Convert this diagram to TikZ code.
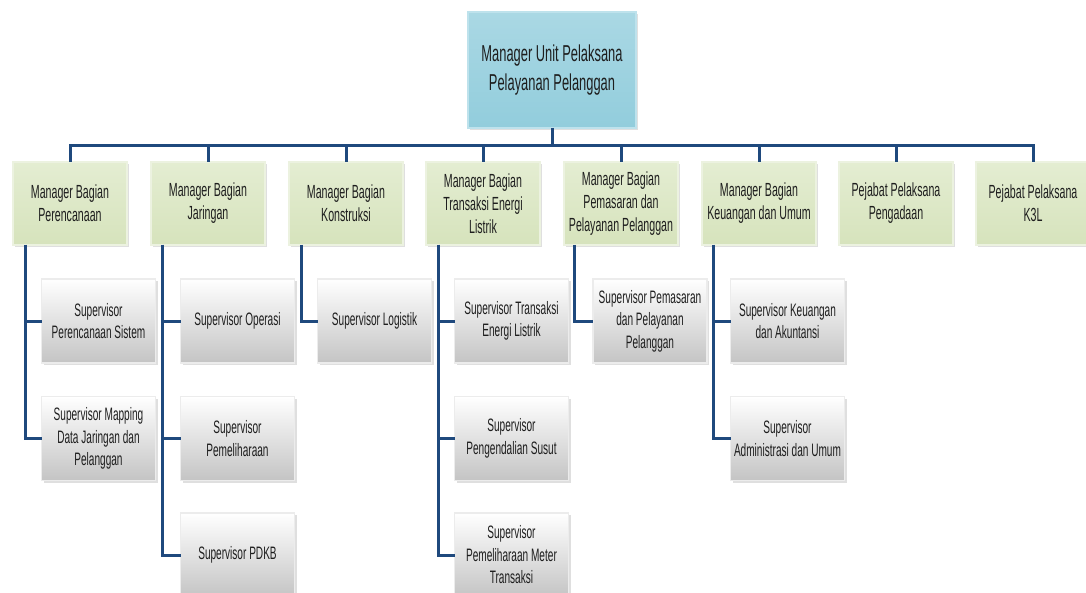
\documentclass[tikz,border=0pt]{standalone}
\usepackage{fontspec}
\setmainfont{Liberation Sans}[FakeStretch=0.56]
\usetikzlibrary{shadows,positioning}
\usepackage{xcolor}
\definecolor{linkblue}{RGB}{31,73,125}
\definecolor{textgrey}{RGB}{30,30,30}
\definecolor{blueface}{RGB}{146,205,220}
\definecolor{bluetop}{RGB}{170,216,228}
\definecolor{blueedge}{RGB}{190,226,236}
\definecolor{greenface}{RGB}{214,227,188}
\definecolor{greentop}{RGB}{228,237,210}
\definecolor{greenedge}{RGB}{236,242,224}
\definecolor{supbottom}{RGB}{196,196,196}
\definecolor{supedge}{RGB}{236,236,236}

\tikzset{
  orgbox/.style={align=center, outer sep=0pt, inner sep=1pt, text=textgrey,
    drop shadow={shadow xshift=1.2pt, shadow yshift=-1.2pt, opacity=0.25}},
  headbox/.style={orgbox, minimum width=84pt, minimum height=58pt,
    top color=bluetop, bottom color=blueface, draw=blueedge, line width=1pt,
    font=\fontsize{11.5}{14.2}\selectfont},
  mgrbox/.style={orgbox, minimum width=57pt, minimum height=41.5pt,
    top color=greentop, bottom color=greenface, draw=greenedge, line width=0.8pt,
    font=\fontsize{9.5}{11.5}\selectfont},
  supbox/.style={orgbox, minimum width=57pt, minimum height=42pt,
    top color=white, bottom color=supbottom, draw=supedge, line width=0.6pt,
    font=\fontsize{9}{11.25}\selectfont},
  conn/.style={draw=linkblue, line width=1.5pt},
}

\begin{document}
\begin{tikzpicture}[x=0.5pt, y=-0.5pt]
    \useasboundingbox (0,0) rectangle (1086,593);
    \fill[white] (0,0) rectangle (1086,593);

    % top of the chart
    \node[headbox] (manager) at (552,70) {Manager Unit Pelaksana\\Pelayanan Pelanggan};
    \coordinate (bus) at (552,146);

    % managers
    \node[mgrbox] (perencanaan) at (70,203.5) {Manager Bagian\\Perencanaan};
    \node[mgrbox] (jaringan) at (208,203.5) {Manager Bagian\\Jaringan};
    \node[mgrbox] (konstruksi) at (346,203.5) {Manager Bagian\\Konstruksi};
    \node[mgrbox] (transaksi) at (483,203.5) {Manager Bagian\\Transaksi Energi\\Listrik};
    \node[mgrbox] (pemasaran) at (621,203.5) {Manager Bagian\\Pemasaran dan\\Pelayanan Pelanggan};
    \node[mgrbox] (keuangan) at (759,203.5) {Manager Bagian\\Keuangan dan Umum};
    \node[mgrbox] (pengadaan) at (896,203.5) {Pejabat Pelaksana\\Pengadaan};
    \node[mgrbox] (kthreel) at (1033,203.5) {Pejabat Pelaksana\\K3L};

    % supervisors
    \node[supbox] (sperencanaan) at (98.5,321) {Supervisor\\Perencanaan Sistem};
    \node[supbox] (smapping) at (98.5,438.5) {Supervisor Mapping\\Data Jaringan dan\\Pelanggan};
    \node[supbox] (soperasi) at (237.5,321) {Supervisor Operasi};
    \node[supbox] (spemeliharaan) at (237.5,438.5) {Supervisor\\Pemeliharaan};
    \node[supbox] (spdkb) at (237.5,555) {Supervisor PDKB};
    \node[supbox] (slogistik) at (374.5,321) {Supervisor Logistik};
    \node[supbox] (stel) at (511.5,321) {Supervisor Transaksi\\Energi Listrik};
    \node[supbox] (ssusut) at (511.5,438.5) {Supervisor\\Pengendalian Susut};
    \node[supbox] (smeter) at (511.5,555) {Supervisor\\Pemeliharaan Meter\\Transaksi};
    \node[supbox] (spemasaran) at (650,321) {Supervisor Pemasaran\\dan Pelayanan\\Pelanggan};
    \node[supbox] (sakuntansi) at (787.5,321) {Supervisor Keuangan\\dan Akuntansi};
    \node[supbox] (sadmin) at (787.5,438.5) {Supervisor\\Administrasi dan Umum};

    % bus to the managers
    \draw[conn] (manager.south) -- (bus);
    \draw[conn] (bus) -| (perencanaan.north);
    \draw[conn] (bus) -| (jaringan.north);
    \draw[conn] (bus) -| (konstruksi.north);
    \draw[conn] (bus) -| (transaksi.north);
    \draw[conn] (bus) -| (pemasaran.north);
    \draw[conn] (bus) -| (keuangan.north);
    \draw[conn] (bus) -| (pengadaan.north);
    \draw[conn] (bus) -| (kthreel.north);

    % managers to supervisors
    \draw[conn] ([xshift=6pt]perencanaan.south west) |- (sperencanaan.west);
    \draw[conn] ([xshift=6pt]perencanaan.south west) |- (smapping.west);
    \draw[conn] ([xshift=5.5pt]jaringan.south west) |- (soperasi.west);
    \draw[conn] ([xshift=5.5pt]jaringan.south west) |- (spemeliharaan.west);
    \draw[conn] ([xshift=5.5pt]jaringan.south west) |- (spdkb.west);
    \draw[conn] ([xshift=6pt]konstruksi.south west) |- (slogistik.west);
    \draw[conn] ([xshift=6pt]transaksi.south west) |- (stel.west);
    \draw[conn] ([xshift=6pt]transaksi.south west) |- (ssusut.west);
    \draw[conn] ([xshift=6pt]transaksi.south west) |- (smeter.west);
    \draw[conn] ([xshift=5pt]pemasaran.south west) |- (spemasaran.west);
    \draw[conn] ([xshift=5.5pt]keuangan.south west) |- (sakuntansi.west);
    \draw[conn] ([xshift=5.5pt]keuangan.south west) |- (sadmin.west);
\end{tikzpicture}
\end{document}
